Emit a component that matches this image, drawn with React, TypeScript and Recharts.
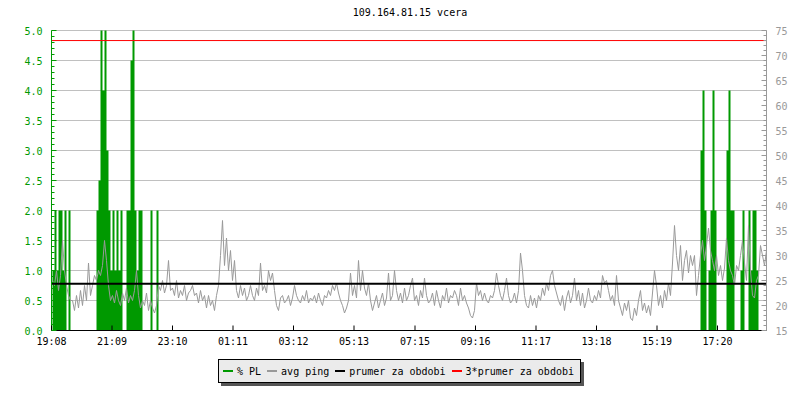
import { ComposedChart, Area, Line, XAxis, YAxis, CartesianGrid, ReferenceLine } from "recharts";

const MONO = '"DejaVu Sans Mono", monospace';
const GREEN = "#009900";
const GRAY = "#999999";

const title = "109.164.81.15 vcera";
const startClock = "19:08";
const spanMinutes = 1430;
const sampleMinutes = 4; // one sample every 4 min
const firstSampleMinute = 2;

const timeTicks = ["19:08", "21:09", "23:10", "01:11", "03:12", "05:13", "07:15", "09:16", "11:17", "13:18", "15:19", "17:20"];

// avg ping in ms (right axis)
const avgPing = [
  25, 24, 27, 23, 26, 33, 27, 24, 22, 21,
  21, 19, 22, 19.5, 23, 20, 24, 21, 28.5, 22,
  24, 26, 25, 27, 26, 28, 33, 29, 24, 21,
  22, 20.5, 23, 21, 20, 22.5, 21, 23.5, 20.5, 22,
  21, 23, 27, 22, 19.5, 21, 20, 22.5, 19, 21,
  19.5, 18.5, 20, 24, 23, 25, 22.5, 24, 29, 23,
  23.5, 22, 25, 21.5, 23, 22, 24, 21, 22.5, 23,
  24, 22, 22.5, 20.5, 23, 21, 22, 19.5, 22, 20,
  21, 19, 22, 24, 30, 37, 28, 33.5, 27, 31,
  25, 29, 23, 21.5, 24, 22, 23.5, 21, 22, 24,
  22, 21, 23.5, 22, 28.5, 23, 24, 22.5, 27, 25,
  26.5, 23, 20, 19, 21.5, 22, 20.5, 21, 22, 20,
  21.5, 24, 22, 21, 20.5, 22, 21, 23, 20.5, 21.5,
  21, 22, 20.5, 22.5, 21, 20, 22, 21.5, 23, 22,
  24, 23, 24.5, 22.5, 21, 20, 18.5, 19.5, 21, 26.5,
  22, 24, 21.5, 29, 23, 27, 23.5, 22, 24.5, 21,
  19, 20.5, 22, 19.5, 21, 22.5, 20, 21.5, 26.5, 21,
  22, 27, 23, 21, 22.5, 20.5, 23.5, 21, 22, 24,
  25.5, 21, 22, 20, 23, 21.5, 25.5, 22, 20.5, 21,
  22.5, 20, 23, 21, 19.5, 22, 21, 23.5, 20.5, 22,
  21.5, 23, 22, 20, 23.5, 21, 22, 20.5, 19.5, 18,
  17.5, 19, 24.5, 22, 23, 21, 22.5, 21, 20.5, 22,
  21.5, 23, 26.5, 24, 22, 21, 23, 25.5, 22, 20.5,
  21, 22.5, 20.5, 23, 30.5, 27, 22, 20, 19.5, 22,
  20, 21.5, 19.5, 22, 21, 23.5, 22, 24.5, 23, 26,
  27, 24, 22.5, 21, 20, 22, 19, 21.5, 23, 20.5,
  22, 25.5, 21, 23, 20, 22.5, 19.5, 21, 23.5, 21,
  20.5, 22, 21, 23, 21.5, 26, 24.5, 25, 23, 21,
  22, 20, 26, 21, 19.5, 18, 20.5, 19, 21, 17.5,
  17, 19.5, 18, 21, 23, 19, 20.5, 18.5, 20, 18,
  22.5, 27, 24, 20, 22, 19.5, 23, 21, 24.5, 22,
  28.5, 36, 30, 27, 32, 25, 29, 31, 26.5, 30,
  28, 30, 22, 26, 30, 33, 29, 32, 35.5, 31,
  29, 27, 30, 26, 28, 25, 27.5, 33.5, 29, 27,
  26, 24, 28, 27, 30, 33, 28.5, 25, 36, 27,
  22, 21.5, 25, 26, 32, 30, 28, 31,
];

// packet loss % — [sample index, value], zero elsewhere
const lossEvents: [number, number][] = [
  [0, 1], [1, 2], [2, 1], [3, 2], [4, 2], [5, 1], [6, 2], [8, 2],
  [22, 2], [23, 2.5], [24, 5.5], [25, 4], [26, 5.5], [27, 3], [28, 2], [29, 1],
  [30, 2], [31, 1], [32, 2], [33, 1], [34, 2],
  [37, 2], [38, 2], [39, 4.5], [40, 5.5], [41, 2], [42, 1], [43, 2], [44, 2],
  [49, 2], [52, 2],
  [324, 3], [325, 4], [326, 2], [328, 1], [329, 2], [330, 4], [331, 2],
  [337, 3], [338, 4], [339, 2], [340, 2],
  [344, 1], [345, 2], [348, 2], [349, 1], [350, 2], [351, 2], [352, 1], [357, 2],
];

const periodAverage = 24.33; // prumer za obdobi (ms)

const plMajor = [0, 0.5, 1, 1.5, 2, 2.5, 3, 3.5, 4, 4.5, 5];
const plTicks = Array.from({ length: 51 }, (_, k) => k / 10);
const pingTicks = Array.from({ length: 61 }, (_, k) => 15 + k);

const legendItems = [
  { label: "% PL", color: GREEN },
  { label: "avg ping", color: GRAY },
  { label: "prumer za obdobi", color: "#000000" },
  { label: "3*prumer za obdobi", color: "#ff0000" },
];

const toMin = (c: string) => {
  const [h, m] = c.split(":").map(Number);
  return h * 60 + m;
};
const sinceStart = (c: string) => (toMin(c) - toMin(startClock) + 1440) % 1440;
const tickMinutes = timeTicks.map(sinceStart);
const labelByMinute = new Map(timeTicks.map((c) => [sinceStart(c), c]));

const lossMap = new Map(lossEvents);
const data = avgPing.map((p, i) => ({
  t: firstSampleMinute + i * sampleMinutes,
  ping: p,
  pl: lossMap.get(i) ?? 0,
}));

function LeftTick({ x, y, payload }: any) {
  const v = payload.value;
  const major = plMajor.some((m) => Math.abs(m - v) < 1e-6);
  return (
    <g>
      <line x1={x} x2={x + (major ? 5 : 3)} y1={y} y2={y} stroke={GREEN} />
      {major && (
        <text x={x - 9} y={y} dy={4} textAnchor="end" fill={GREEN} fontSize={10} fontFamily={MONO}>
          {v.toFixed(1)}
        </text>
      )}
    </g>
  );
}

function RightTick({ x, y, payload }: any) {
  const v = payload.value;
  const major = v % 5 === 0;
  return (
    <g>
      <line x1={x} x2={x - (major ? 5 : 3)} y1={y} y2={y} stroke={GRAY} />
      {major && (
        <text x={x + 9} y={y} dy={4} textAnchor="start" fill={GRAY} fontSize={10} fontFamily={MONO}>
          {v}
        </text>
      )}
    </g>
  );
}

function TimeTick({ x, y, payload }: any) {
  return (
    <g>
      <line x1={x} x2={x} y1={y} y2={y - 5} stroke="#000" />
      <text x={x} y={y + 14} textAnchor="middle" fill="#000" fontSize={10} fontFamily={MONO}>
        {labelByMinute.get(payload.value)}
      </text>
    </g>
  );
}

export default function App() {
  return (
    <div style={{ position: "absolute", left: 0, top: 0, width: 800, height: 400, background: "#fff", fontFamily: MONO }}>
      <div style={{ position: "absolute", left: 410, top: 7, transform: "translateX(-50%)", fontSize: 10, lineHeight: "12px", whiteSpace: "nowrap", color: "#000" }}>
        {title}
      </div>
      <ComposedChart width={800} height={400} data={data} margin={{ top: 30.5, right: 0.5, left: 0.5, bottom: 49.5 }}>
        <CartesianGrid yAxisId="pl" vertical={false} horizontalValues={plMajor} stroke="#c0c0c0" />
        <XAxis
          dataKey="t"
          type="number"
          domain={[0, spanMinutes]}
          ticks={tickMinutes}
          interval={0}
          height={20}
          tickSize={0}
          tickMargin={0}
          tickLine={false}
          tick={<TimeTick />}
          axisLine={{ stroke: "#000" }}
        />
        <YAxis
          yAxisId="pl"
          domain={[0, 5]}
          ticks={plTicks}
          allowDataOverflow
          interval={0}
          width={51}
          tickSize={0}
          tickMargin={0}
          tickLine={false}
          tick={<LeftTick />}
          axisLine={{ stroke: GREEN }}
        />
        <YAxis
          yAxisId="ping"
          orientation="right"
          domain={[15, 75]}
          ticks={pingTicks}
          allowDataOverflow
          interval={0}
          width={33}
          tickSize={0}
          tickMargin={0}
          tickLine={false}
          tick={<RightTick />}
          axisLine={{ stroke: GRAY }}
        />
        <Area
          yAxisId="pl"
          dataKey="pl"
          type="stepAfter"
          stroke="none"
          fill={GREEN}
          fillOpacity={1}
          isAnimationActive={false}
        />
        <Line
          yAxisId="ping"
          dataKey="ping"
          type="linear"
          stroke={GRAY}
          strokeWidth={1}
          dot={false}
          isAnimationActive={false}
        />
        <ReferenceLine yAxisId="ping" y={periodAverage} stroke="#000" strokeWidth={2} />
        <ReferenceLine yAxisId="ping" y={periodAverage * 3} stroke="#ff0000" strokeWidth={1} />
      </ComposedChart>
      <div
        style={{
          position: "absolute",
          left: 218,
          top: 359,
          width: 363,
          height: 24,
          boxSizing: "border-box",
          border: "1px solid #000",
          background: "#ebebeb",
          boxShadow: "3px 3px 0 #555",
          display: "flex",
          alignItems: "center",
          paddingLeft: 4,
          fontSize: 10,
          color: "#000",
          whiteSpace: "pre",
        }}
      >
        {legendItems.map((it) => (
          <span key={it.label} style={{ display: "flex", alignItems: "center", marginRight: 6 }}>
            <span style={{ display: "inline-block", width: 10, height: 2, background: it.color, marginRight: 4 }} />
            <span>{it.label}</span>
          </span>
        ))}
      </div>
    </div>
  );
}
